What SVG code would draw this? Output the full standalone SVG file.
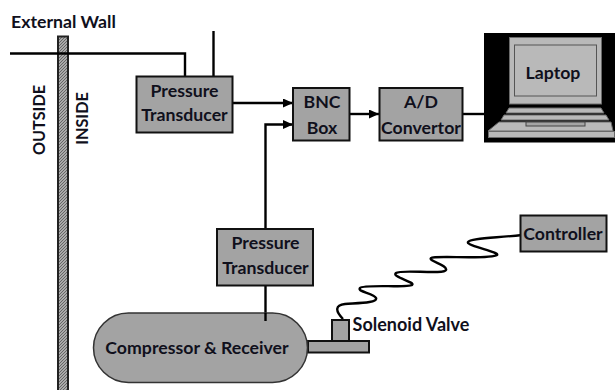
<svg xmlns="http://www.w3.org/2000/svg" width="615" height="390" viewBox="0 0 615 390">
<style>
.box{fill:#a3a3a3;stroke:#111;stroke-width:2}
.ln{fill:none;stroke:#000;stroke-width:2.400}
text{font-family:"Lato","Liberation Sans",sans-serif;font-weight:700;font-size:17.700px;fill:#10101c;text-anchor:middle}
.lap{fill:#b9b9b9;stroke:#6a6a6a;stroke-width:1}
</style>
<defs>
<marker id="ah" markerUnits="userSpaceOnUse" markerWidth="11" markerHeight="9" refX="10" refY="4.500" orient="auto"><path d="M0 0L10 4.500L0 9Z" fill="#000"/></marker>
<pattern id="hatch" width="3" height="3" patternUnits="userSpaceOnUse"><rect width="3" height="3" fill="#aaa"/><path d="M0 3L3 0" stroke="#666" stroke-width="1"/></pattern>
</defs>
<rect width="615" height="390" fill="#fff"/>
<g id="wall"><rect x="58" y="36.500" width="10" height="360" fill="url(#hatch)" stroke="#222" stroke-width="2"/></g>
<g id="labels">
<text x="63.500" y="27.500">External Wall</text>
<text transform="translate(45,120) rotate(-90)" style="font-size:16.200px">OUTSIDE</text>
<text transform="translate(88,118.500) rotate(-90)" style="font-size:16.200px">INSIDE</text>
<text x="411" y="331" style="font-size:18px">Solenoid Valve</text>
</g>
<g id="connectors">
<path class="ln" d="M10 53.500H185V76"/>
<path class="ln" d="M213.500 31V76"/>
<path class="ln" d="M233 103H293" marker-end="url(#ah)"/>
<path class="ln" d="M265.500 229V124.500H293" marker-end="url(#ah)"/>
<path class="ln" d="M265.500 286V321"/>
<path class="ln" d="M350 114H379" marker-end="url(#ah)"/>
<path class="ln" d="M463 114H485"/>
<path class="ln" d="M343 319C335 311 335 305 345 304C358 303 378 303 376 298C374 293 357 292 360 288C363 284 408 288 412 285C416 282 391 277 396 273C401 269 444 275 446 270C448 265 428 261 431 258C434 255 490 260 497 255C500 252 466 246 468 242C470 238 495 238 522 235"/>
</g>
<g id="pt1"><rect class="box" x="136.500" y="76.500" width="96" height="56"/><text x="184.500" y="97">Pressure</text><text x="184.500" y="121">Transducer</text></g>
<g id="bnc"><rect class="box" x="293" y="88" width="56.500" height="52.500"/><text x="322" y="108">BNC</text><text x="322" y="134">Box</text></g>
<g id="ad"><rect class="box" x="379.500" y="88" width="83" height="52.500"/><text x="421" y="108">A/D</text><text x="421" y="134">Convertor</text></g>
<g id="laptop">
<rect x="484" y="33" width="131" height="109.500" fill="#000"/>
<rect class="lap" x="509.500" y="37.500" width="92" height="66.500"/>
<rect x="514.500" y="45" width="82" height="51" fill="#b9b9b9" stroke="#555" stroke-width="1"/>
<path class="lap" d="M509 108H601L604 113H506Z"/>
<path class="lap" d="M504 115H606L609 120H501Z"/>
<path class="lap" d="M499 122H611L613 131H488Z"/>
<rect x="526" y="122" width="59" height="4" fill="#a5a5a5" stroke="#444" stroke-width="1"/>
<rect class="lap" x="488.500" y="131.500" width="126" height="6"/>
<text x="553" y="79">Laptop</text>
</g>
<g id="pt2"><rect class="box" x="217" y="229" width="96" height="56.500"/><text x="265.500" y="249">Pressure</text><text x="265.500" y="274">Transducer</text></g>
<g id="solenoid"><rect class="box" x="332" y="320" width="17" height="21"/></g>
<g id="pipe"><rect class="box" x="308" y="341" width="61" height="11.500"/></g>
<g id="compressor"><rect x="93.500" y="313" width="214" height="69.500" rx="35" fill="#a3a3a3" stroke="#333" stroke-width="1.500"/><path class="ln" d="M265.500 313V321"/><text x="197" y="354">Compressor &amp; Receiver</text></g>
<g id="controller"><rect class="box" x="520.500" y="215.500" width="86" height="36"/><text x="563" y="240">Controller</text></g>
</svg>
